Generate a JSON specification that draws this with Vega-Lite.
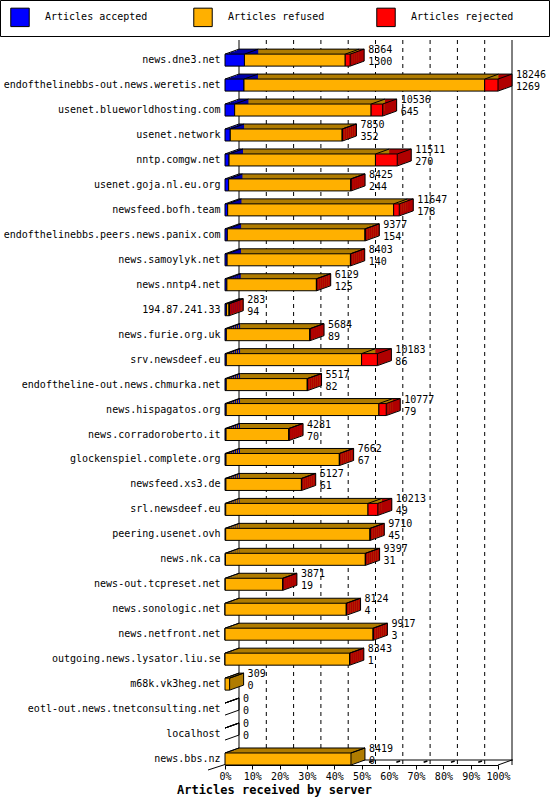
{
  "$schema": "https://vega.github.io/schema/vega-lite/v6.json",
  "autosize": "none",
  "width": 273,
  "height": 720,
  "padding": {"left": 225, "top": 45, "right": 52, "bottom": 40},
  "background": "white",
  "config": {
    "font": "DejaVu Sans Mono",
    "view": {"stroke": null},
    "axis": {"labelFont": "DejaVu Sans Mono", "labelFontSize": 10, "labelColor": "black"}
  },
  "title": {
    "text": "Articles received by server",
    "orient": "bottom",
    "anchor": "middle",
    "frame": "bounds",
    "font": "DejaVu Sans Mono",
    "fontSize": 12,
    "fontWeight": "bold",
    "color": "black",
    "offset": 4
  },
  "datasets": {
    "servers": [
      {"server": "news.dne3.net", "total": 8364, "accepted": 1300, "refused": 6734, "rejected": 330},
      {"server": "endofthelinebbs-out.news.weretis.net", "total": 18246, "accepted": 1269, "refused": 16087, "rejected": 890},
      {"server": "usenet.blueworldhosting.com", "total": 10536, "accepted": 645, "refused": 9121, "rejected": 770},
      {"server": "usenet.network", "total": 7850, "accepted": 352, "refused": 7478, "rejected": 20},
      {"server": "nntp.comgw.net", "total": 11511, "accepted": 270, "refused": 9786, "rejected": 1455},
      {"server": "usenet.goja.nl.eu.org", "total": 8425, "accepted": 244, "refused": 8161, "rejected": 20},
      {"server": "newsfeed.bofh.team", "total": 11647, "accepted": 178, "refused": 11094, "rejected": 375},
      {"server": "endofthelinebbs.peers.news.panix.com", "total": 9377, "accepted": 154, "refused": 9203, "rejected": 20},
      {"server": "news.samoylyk.net", "total": 8403, "accepted": 140, "refused": 8243, "rejected": 20},
      {"server": "news.nntp4.net", "total": 6129, "accepted": 125, "refused": 5984, "rejected": 20},
      {"server": "194.87.241.33", "total": 283, "accepted": 94, "refused": 179, "rejected": 10},
      {"server": "news.furie.org.uk", "total": 5684, "accepted": 89, "refused": 5575, "rejected": 20},
      {"server": "srv.newsdeef.eu", "total": 10183, "accepted": 86, "refused": 9042, "rejected": 1055},
      {"server": "endoftheline-out.news.chmurka.net", "total": 5517, "accepted": 82, "refused": 5415, "rejected": 20},
      {"server": "news.hispagatos.org", "total": 10777, "accepted": 79, "refused": 10208, "rejected": 490},
      {"server": "news.corradoroberto.it", "total": 4281, "accepted": 70, "refused": 4191, "rejected": 20},
      {"server": "glockenspiel.complete.org", "total": 7662, "accepted": 67, "refused": 7575, "rejected": 20},
      {"server": "newsfeed.xs3.de", "total": 5127, "accepted": 61, "refused": 5046, "rejected": 20},
      {"server": "srl.newsdeef.eu", "total": 10213, "accepted": 49, "refused": 9509, "rejected": 655},
      {"server": "peering.usenet.ovh", "total": 9710, "accepted": 45, "refused": 9645, "rejected": 20},
      {"server": "news.nk.ca", "total": 9397, "accepted": 31, "refused": 9346, "rejected": 20},
      {"server": "news-out.tcpreset.net", "total": 3871, "accepted": 19, "refused": 3832, "rejected": 20},
      {"server": "news.sonologic.net", "total": 8124, "accepted": 4, "refused": 8100, "rejected": 20},
      {"server": "news.netfront.net", "total": 9917, "accepted": 3, "refused": 9894, "rejected": 20},
      {"server": "outgoing.news.lysator.liu.se", "total": 8343, "accepted": 1, "refused": 8322, "rejected": 20},
      {"server": "m68k.vk3heg.net", "total": 309, "accepted": 0, "refused": 309, "rejected": 0},
      {"server": "eotl-out.news.tnetconsulting.net", "total": 0, "accepted": 0, "refused": 0, "rejected": 0},
      {"server": "localhost", "total": 0, "accepted": 0, "refused": 0, "rejected": 0},
      {"server": "news.bbs.nz", "total": 8419, "accepted": 0, "refused": 8419, "rejected": 0}
    ]
  },
  "resolve": {"scale": {"x": "independent"}},
  "layer": [
    {
      "data": {"values": [
        {"pct": 0}, {"pct": 10}, {"pct": 20}, {"pct": 30}, {"pct": 40}, {"pct": 50},
        {"pct": 60}, {"pct": 70}, {"pct": 80}, {"pct": 90}, {"pct": 100}
      ]},
      "encoding": {
        "x": {
          "field": "pct",
          "type": "quantitative",
          "scale": {"domain": [0, 100], "nice": false},
          "axis": {
            "values": [0, 10, 20, 30, 40, 50, 60, 70, 80, 90, 100],
            "labelExpr": "datum.value + '%'",
            "grid": false,
            "ticks": true,
            "tickSize": 4,
            "tickColor": "black",
            "domainColor": "black",
            "labelFlush": false,
            "labelOverlap": false,
            "labelPadding": 2,
            "title": null
          }
        }
      },
      "layer": [
        {
          "mark": {"type": "rule", "xOffset": 14, "yOffset": -5, "y2Offset": -5, "color": "black", "strokeWidth": 1},
          "encoding": {
            "strokeDash": {
              "condition": {"test": "datum.pct == 0 || datum.pct == 100", "value": [1, 0]},
              "value": [4, 4]
            }
          }
        },
        {
          "transform": [{"filter": "datum.pct > 0 && datum.pct < 100"}],
          "mark": {"type": "rule", "x2Offset": 14, "y2Offset": -5, "color": "black", "strokeWidth": 1.5, "strokeDash": [0, 8, 4, 10]},
          "encoding": {
            "x2": {"field": "pct"},
            "y": {"datum": "news.bbs.nz", "type": "nominal", "bandPosition": 1, "axis": {"title": null, "domain": false, "ticks": false, "labelPadding": 5, "labelFontSize": 10, "labelColor": "black", "labelLimit": 300}},
            "y2": {"datum": "news.bbs.nz", "bandPosition": 1}
          }
        }
      ]
    },
    {
      "data": {"name": "servers"},
      "transform": [
        {"fold": ["accepted", "refused", "rejected"], "as": ["segment", "count"]},
        {"stack": "count", "groupby": ["server"], "sort": [{"field": "segment", "order": "ascending"}], "as": ["x0", "x1"]}
      ],
      "encoding": {
        "y": {
          "field": "server",
          "type": "nominal",
          "sort": null,
          "scale": {
            "domain": [
              "news.dne3.net", "endofthelinebbs-out.news.weretis.net", "usenet.blueworldhosting.com",
              "usenet.network", "nntp.comgw.net", "usenet.goja.nl.eu.org", "newsfeed.bofh.team",
              "endofthelinebbs.peers.news.panix.com", "news.samoylyk.net", "news.nntp4.net", "194.87.241.33",
              "news.furie.org.uk", "srv.newsdeef.eu", "endoftheline-out.news.chmurka.net", "news.hispagatos.org",
              "news.corradoroberto.it", "glockenspiel.complete.org", "newsfeed.xs3.de", "srl.newsdeef.eu",
              "peering.usenet.ovh", "news.nk.ca", "news-out.tcpreset.net", "news.sonologic.net",
              "news.netfront.net", "outgoing.news.lysator.liu.se", "m68k.vk3heg.net",
              "eotl-out.news.tnetconsulting.net", "localhost", "news.bbs.nz"
            ],
            "paddingInner": 0.519,
            "paddingOuter": 0.1826,
            "align": 1
          },
          "axis": {"title": null, "domain": false, "ticks": false, "labelPadding": 5, "labelFontSize": 10, "labelColor": "black", "labelLimit": 300}
        },
        "x": {"field": "x0", "type": "quantitative", "scale": {"domain": [0, 18246], "nice": false, "zero": true}, "axis": null}
      },
      "layer": [
        {
          "transform": [{"filter": "datum.server === 'news.bbs.nz' && datum.segment === 'accepted'"}],
          "mark": {"type": "rule", "xOffset": 14, "x2Offset": 15, "yOffset": -5, "color": "black"},
          "encoding": {
            "x": {"datum": 0, "type": "quantitative"},
            "x2": {"datum": 18246},
            "y": {"field": "server", "type": "nominal", "sort": null, "bandPosition": 1}
          }
        },
        {
          "transform": [{"filter": "datum.server === 'news.bbs.nz' && datum.segment === 'accepted'"}],
          "mark": {"type": "rule", "x2Offset": 14, "y2Offset": -5, "color": "black"},
          "encoding": {
            "x": {"datum": 18246, "type": "quantitative"},
            "x2": {"datum": 18246},
            "y": {"field": "server", "type": "nominal", "sort": null, "bandPosition": 1},
            "y2": {"field": "server", "bandPosition": 1}
          }
        },
        {
          "transform": [{"filter": "datum.server === 'news.bbs.nz' && datum.segment === 'accepted'"}],
          "mark": {"type": "rule", "xOffset": -17, "x2Offset": 14, "yOffset": 5, "y2Offset": -5, "color": "black"},
          "encoding": {
            "x": {"datum": 0, "type": "quantitative"},
            "x2": {"datum": 0},
            "y": {"field": "server", "type": "nominal", "sort": null, "bandPosition": 1},
            "y2": {"field": "server", "bandPosition": 1}
          }
        },
        {
          "mark": {"type": "bar", "xOffset": 2, "x2Offset": 2, "yOffset": -0.71, "y2Offset": -0.71},
          "encoding": {"x2": {"field": "x1"}, "color": {"field": "segment", "type": "nominal", "scale": {"range": ["#0000a8", "#b07c00", "#b00000"]}, "legend": null}}
        },
        {
          "mark": {"type": "bar", "xOffset": 4, "x2Offset": 4, "yOffset": -1.43, "y2Offset": -1.43},
          "encoding": {"x2": {"field": "x1"}, "color": {"field": "segment", "type": "nominal", "legend": null}}
        },
        {
          "mark": {"type": "bar", "xOffset": 6, "x2Offset": 6, "yOffset": -2.14, "y2Offset": -2.14},
          "encoding": {"x2": {"field": "x1"}, "color": {"field": "segment", "type": "nominal", "legend": null}}
        },
        {
          "mark": {"type": "bar", "xOffset": 8, "x2Offset": 8, "yOffset": -2.86, "y2Offset": -2.86},
          "encoding": {"x2": {"field": "x1"}, "color": {"field": "segment", "type": "nominal", "legend": null}}
        },
        {
          "mark": {"type": "bar", "xOffset": 10, "x2Offset": 10, "yOffset": -3.57, "y2Offset": -3.57},
          "encoding": {"x2": {"field": "x1"}, "color": {"field": "segment", "type": "nominal", "legend": null}}
        },
        {
          "mark": {"type": "bar", "xOffset": 12, "x2Offset": 12, "yOffset": -4.29, "y2Offset": -4.29},
          "encoding": {"x2": {"field": "x1"}, "color": {"field": "segment", "type": "nominal", "legend": null}}
        },
        {
          "mark": {"type": "bar", "xOffset": 14, "x2Offset": 14, "yOffset": -5, "y2Offset": -5},
          "encoding": {"x2": {"field": "x1"}, "color": {"field": "segment", "type": "nominal", "legend": null}}
        },
        {
          "transform": [{"filter": "datum.segment === 'rejected' && datum.total > 0"}],
          "mark": {"type": "bar", "xOffset": 0, "x2Offset": 2, "yOffset": -0.71, "y2Offset": -0.71},
          "encoding": {"x": {"field": "x1", "type": "quantitative"}, "x2": {"field": "x1"}, "color": {"condition": {"test": "datum.rejected > 0", "value": "#b00000"}, "value": "#b07c00"}}
        },
        {
          "transform": [{"filter": "datum.segment === 'rejected' && datum.total > 0"}],
          "mark": {"type": "bar", "xOffset": 2, "x2Offset": 4, "yOffset": -1.43, "y2Offset": -1.43},
          "encoding": {"x": {"field": "x1", "type": "quantitative"}, "x2": {"field": "x1"}, "color": {"condition": {"test": "datum.rejected > 0", "value": "#b00000"}, "value": "#b07c00"}}
        },
        {
          "transform": [{"filter": "datum.segment === 'rejected' && datum.total > 0"}],
          "mark": {"type": "bar", "xOffset": 4, "x2Offset": 6, "yOffset": -2.14, "y2Offset": -2.14},
          "encoding": {"x": {"field": "x1", "type": "quantitative"}, "x2": {"field": "x1"}, "color": {"condition": {"test": "datum.rejected > 0", "value": "#b00000"}, "value": "#b07c00"}}
        },
        {
          "transform": [{"filter": "datum.segment === 'rejected' && datum.total > 0"}],
          "mark": {"type": "bar", "xOffset": 6, "x2Offset": 8, "yOffset": -2.86, "y2Offset": -2.86},
          "encoding": {"x": {"field": "x1", "type": "quantitative"}, "x2": {"field": "x1"}, "color": {"condition": {"test": "datum.rejected > 0", "value": "#b00000"}, "value": "#b07c00"}}
        },
        {
          "transform": [{"filter": "datum.segment === 'rejected' && datum.total > 0"}],
          "mark": {"type": "bar", "xOffset": 8, "x2Offset": 10, "yOffset": -3.57, "y2Offset": -3.57},
          "encoding": {"x": {"field": "x1", "type": "quantitative"}, "x2": {"field": "x1"}, "color": {"condition": {"test": "datum.rejected > 0", "value": "#b00000"}, "value": "#b07c00"}}
        },
        {
          "transform": [{"filter": "datum.segment === 'rejected' && datum.total > 0"}],
          "mark": {"type": "bar", "xOffset": 10, "x2Offset": 12, "yOffset": -4.29, "y2Offset": -4.29},
          "encoding": {"x": {"field": "x1", "type": "quantitative"}, "x2": {"field": "x1"}, "color": {"condition": {"test": "datum.rejected > 0", "value": "#b00000"}, "value": "#b07c00"}}
        },
        {
          "transform": [{"filter": "datum.segment === 'rejected' && datum.total > 0"}],
          "mark": {"type": "bar", "xOffset": 12, "x2Offset": 14, "yOffset": -5, "y2Offset": -5},
          "encoding": {"x": {"field": "x1", "type": "quantitative"}, "x2": {"field": "x1"}, "color": {"condition": {"test": "datum.rejected > 0", "value": "#b00000"}, "value": "#b07c00"}}
        },
        {
          "mark": {"type": "rule", "x2Offset": 14, "y2Offset": -5, "color": "black"},
          "encoding": {
            "x": {"field": "x1", "type": "quantitative"},
            "x2": {"field": "x1"},
            "y": {"field": "server", "type": "nominal", "sort": null, "bandPosition": 0},
            "y2": {"field": "server", "bandPosition": 0}
          }
        },
        {
          "transform": [{"filter": "datum.segment === 'accepted'"}],
          "mark": {"type": "rule", "x2Offset": 14, "y2Offset": -5, "color": "black"},
          "encoding": {
            "x2": {"field": "x0"},
            "y": {"field": "server", "type": "nominal", "sort": null, "bandPosition": 0},
            "y2": {"field": "server", "bandPosition": 0}
          }
        },
        {
          "mark": {"type": "rule", "xOffset": 14, "x2Offset": 14, "yOffset": -5, "color": "black"},
          "encoding": {
            "x2": {"field": "x1"},
            "y": {"field": "server", "type": "nominal", "sort": null, "bandPosition": 0}
          }
        },
        {
          "transform": [{"filter": "datum.segment === 'rejected'"}],
          "mark": {"type": "rule", "xOffset": 14, "yOffset": -5, "y2Offset": -5, "color": "black"},
          "encoding": {
            "x": {"field": "x1", "type": "quantitative"},
            "y": {"field": "server", "type": "nominal", "sort": null, "bandPosition": 0},
            "y2": {"field": "server", "bandPosition": 1}
          }
        },
        {
          "transform": [{"filter": "datum.segment === 'rejected'"}],
          "mark": {"type": "rule", "x2Offset": 14, "y2Offset": -5, "color": "black"},
          "encoding": {
            "x": {"field": "x1", "type": "quantitative"},
            "x2": {"field": "x1"},
            "y": {"field": "server", "type": "nominal", "sort": null, "bandPosition": 1},
            "y2": {"field": "server", "bandPosition": 1}
          }
        },
        {
          "transform": [{"filter": "datum.count > 0"}],
          "mark": {"type": "bar", "stroke": "black", "strokeWidth": 1},
          "encoding": {
            "x2": {"field": "x1"},
            "fill": {
              "field": "segment",
              "type": "nominal",
              "scale": {"domain": ["accepted", "refused", "rejected"], "range": ["#0000ff", "#ffb000", "#ff0000"]},
              "legend": {
                "title": "\u00a0",
                "titleOrient": "right",
                "titlePadding": 29,
                "titleFontSize": 10,
                "orient": "none",
                "legendX": -225,
                "legendY": -45,
                "direction": "horizontal",
                "columns": 3,
                "gridAlign": "all",
                "columnPadding": 42,
                "padding": 7,
                "strokeColor": "black",
                "fillColor": "white",
                "symbolType": "square",
                "symbolSize": 340,
                "symbolOffset": 3,
                "symbolStrokeColor": "black",
                "symbolStrokeWidth": 1,
                "symbolOpacity": 1,
                "labelFont": "DejaVu Sans Mono",
                "labelFontSize": 10,
                "labelColor": "black",
                "labelOffset": 15,
                "labelLimit": 300,
                "labelExpr": "'Articles ' + datum.label"
              }
            }
          }
        },
        {
          "transform": [{"filter": "datum.segment === 'accepted'"}],
          "mark": {"type": "text", "align": "left", "baseline": "alphabetic", "dx": 18, "dy": -7, "fontSize": 10, "color": "black"},
          "encoding": {"x": {"field": "total", "type": "quantitative"}, "text": {"field": "total"}}
        },
        {
          "transform": [{"filter": "datum.segment === 'accepted'"}],
          "mark": {"type": "text", "align": "left", "baseline": "alphabetic", "dx": 18, "dy": 5, "fontSize": 10, "color": "black"},
          "encoding": {"x": {"field": "total", "type": "quantitative"}, "text": {"field": "accepted"}}
        }
      ]
    }
  ]
}
